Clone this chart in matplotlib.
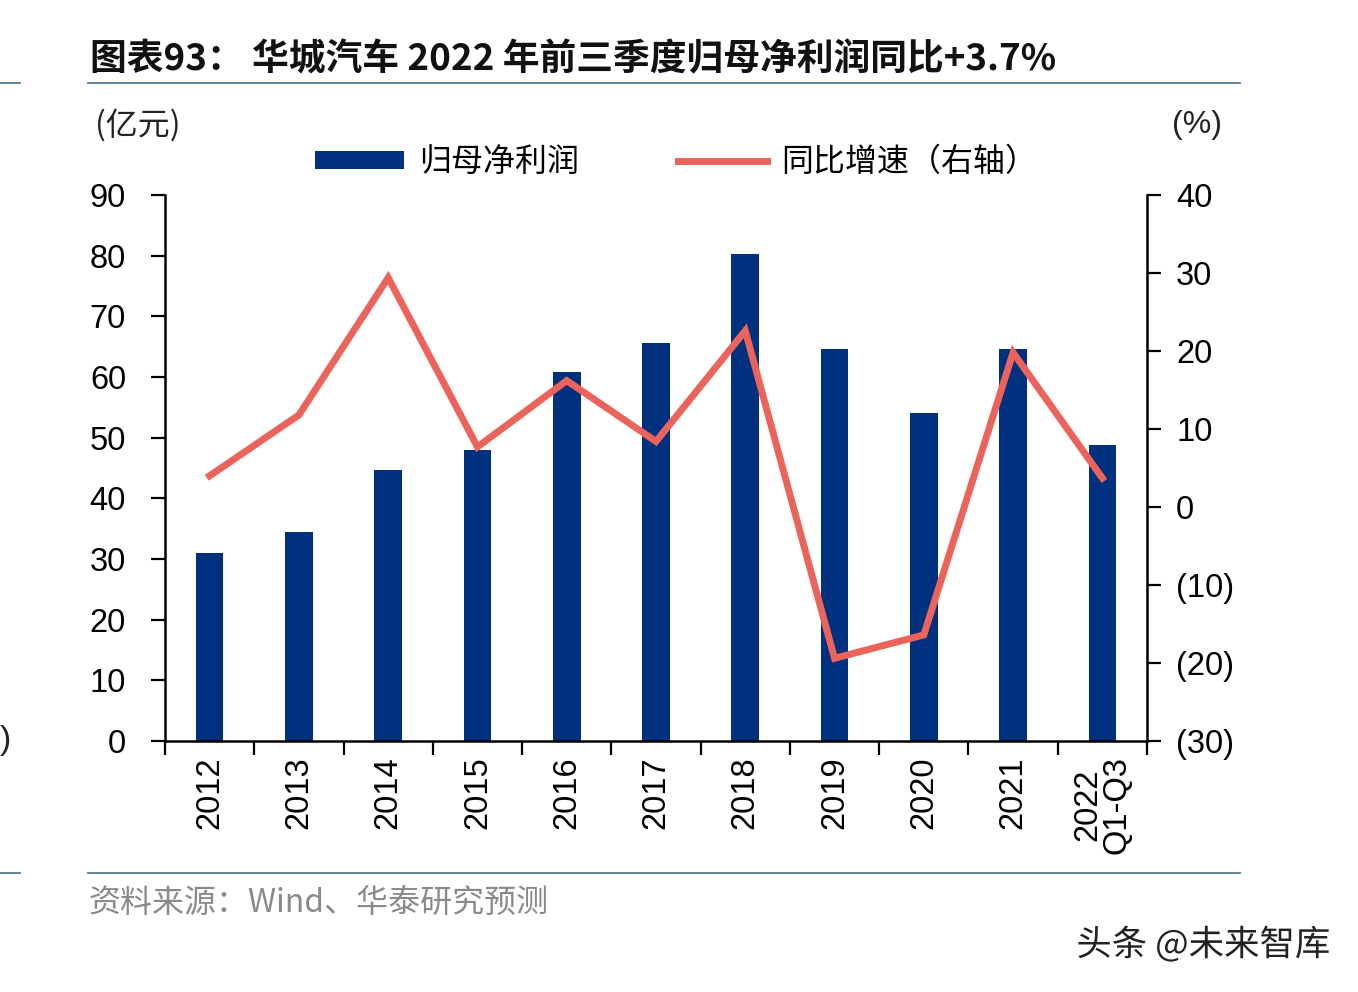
import matplotlib
matplotlib.use("Agg")
import matplotlib.pyplot as plt
import matplotlib.patheffects as pe
from matplotlib.lines import Line2D
import numpy as np

plt.rcParams['font.family'] = ['Liberation Sans', 'Noto Sans CJK SC', 'DejaVu Sans']

# data
years = ['2012', '2013', '2014', '2015', '2016', '2017', '2018', '2019', '2020', '2021', '2022\nQ1-Q3']
profit = [31.0, 34.4, 44.7, 48.0, 60.8, 65.6, 80.3, 64.6, 54.1, 64.6, 48.8]     # 亿元
growth = [4.0, 11.8, 29.4, 7.7, 16.2, 8.4, 22.6, -19.4, -16.4, 19.8, 3.7]       # %

left_ticks = [0, 10, 20, 30, 40, 50, 60, 70, 80, 90]
right_ticks = [-30, -20, -10, 0, 10, 20, 30, 40]

W, H = 1358, 992
NAVY = '#00317F'
RED = '#EC635C'
RULE = '#5B7A98'
CJK = ['Noto Sans CJK SC', 'DejaVu Sans']


def fx(px):
    return px / W


def fy(py):
    return 1 - py / H


fig = plt.figure(figsize=(W / 100, H / 100), dpi=100)
ax = fig.add_axes([fx(165), fy(741), fx(1147) - fx(165), fy(195) - fy(741)])
ax2 = ax.twinx()

x = np.arange(len(years))
bars = ax.bar(x, profit, width=0.31, color=NAVY, zorder=2)
line, = ax2.plot(x, growth, color=RED, lw=5, solid_joinstyle='miter', zorder=3)

ax.set_xlim(-0.5, len(years) - 0.5)
ax.set_ylim(0, 90)
ax2.set_ylim(-30, 40)
ax.set_yticks(left_ticks)
ax.set_yticklabels([str(v) for v in left_ticks])
ax2.set_yticks(right_ticks)
ax2.set_yticklabels([f'({-v})' if v < 0 else str(v) for v in right_ticks])

ax.set_xticks(np.arange(-0.5, len(years), 1.0))
ax.set_xticklabels([])
ax.set_xticks(x, minor=True)
ax.set_xticklabels(years, minor=True, rotation=90, fontsize=23.5, linespacing=0.95)
ax.tick_params(axis='x', which='minor', length=0, pad=11)
ax.tick_params(axis='x', which='major', direction='out', length=10, width=1.6)
ax.tick_params(axis='y', direction='out', length=10, width=1.6, labelsize=23.5, pad=18)
ax2.tick_params(axis='y', direction='out', length=10, width=1.6, labelsize=23.5, pad=11)

for a in (ax, ax2):
    a.spines['top'].set_visible(False)
    for s in ('left', 'right', 'bottom'):
        a.spines[s].set_linewidth(1.8)
ax.spines['right'].set_visible(False)
ax2.spines['left'].set_visible(False)
ax2.spines['bottom'].set_visible(False)

# title and rules
fig.text(fx(90), fy(60), '图表93： 华城汽车 2022 年前三季度归母净利润同比+3.7%',
         family=CJK, fontsize=26.5, fontweight='bold', va='center', ha='left', color='#111111')
for yy in (83, 873):
    fig.add_artist(Line2D([fx(88), fx(1240)], [fy(yy), fy(yy)], transform=fig.transFigure,
                          color=RULE, lw=1.3))
    fig.add_artist(Line2D([fx(0), fx(20)], [fy(yy), fy(yy)], transform=fig.transFigure,
                          color=RULE, lw=1.3))

# units
fig.text(fx(95), fy(125), '(亿元)', family=CJK, fontsize=23, va='center', ha='left', color='#222222')
fig.text(fx(1222), fy(125), '(%)', fontsize=23, va='center', ha='right', color='#222222')
fig.text(fx(0), fy(741), ')', fontsize=24, va='center', ha='left', color='#222222')

# legend
fig.legend([bars, line], ['归母净利润', '同比增速（右轴）'], loc='center left',
           bbox_to_anchor=(fx(315), fy(162)), ncol=2, frameon=False,
           prop={'family': CJK, 'size': 23}, handlelength=2.8, handleheight=0.5,
           handletextpad=0.45, columnspacing=3.1, borderpad=0, borderaxespad=0)

# source and watermark
fig.text(fx(88), fy(903), '资料来源：Wind、华泰研究预测', family=CJK, fontsize=23,
         va='center', ha='left', color='#8a8a8a')
fig.text(fx(1330), fy(945), '头条 @未来智库', family=CJK, fontsize=25.5, va='center', ha='right',
         color='#222222', path_effects=[pe.withStroke(linewidth=3, foreground='white')])

fig.savefig('out.png', dpi=100, facecolor='white')
